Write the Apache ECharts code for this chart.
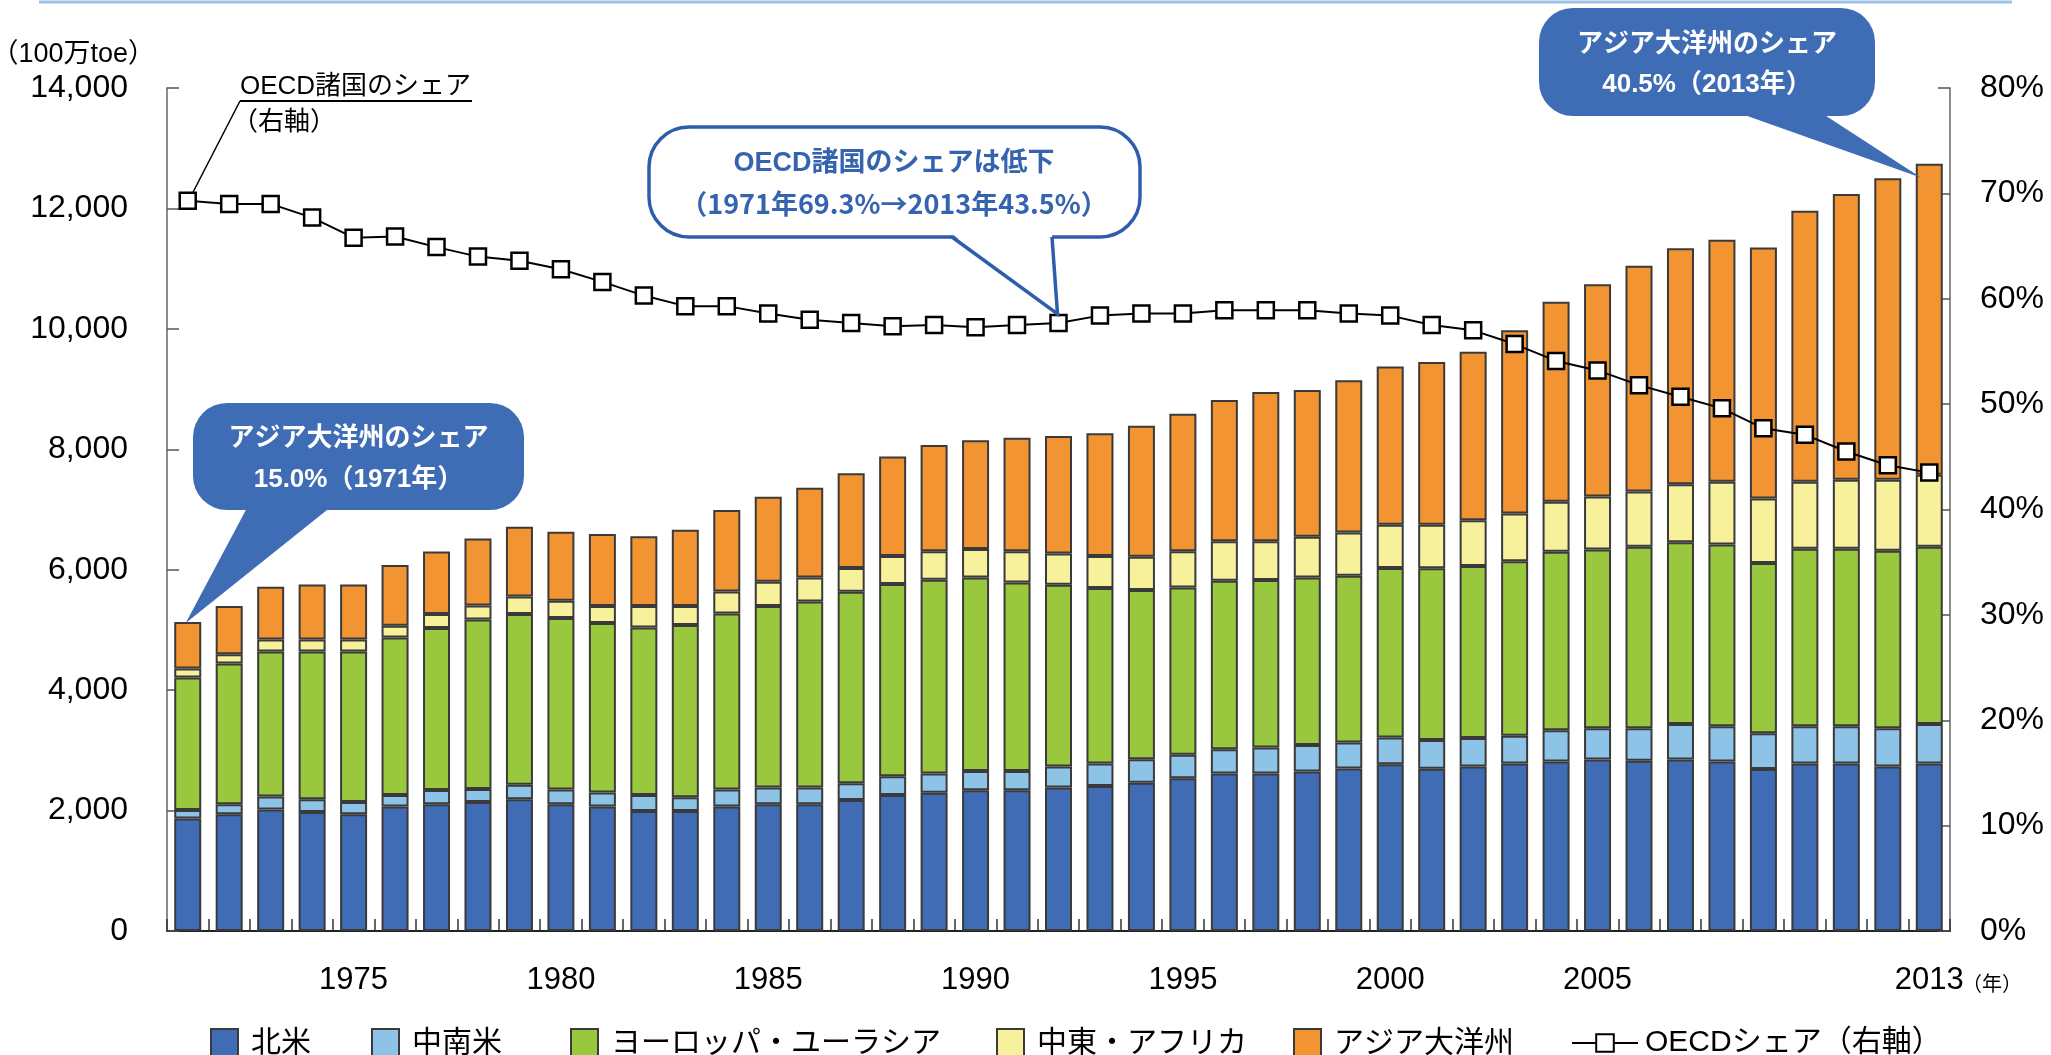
<!DOCTYPE html>
<html>
<head>
<meta charset="utf-8">
<title>世界のエネルギー消費量の推移（地域別）</title>
<script src="https://cdn.jsdelivr.net/npm/echarts@6/dist/echarts.min.js"></script>
<style>
html, body { margin: 0; padding: 0; background: #fff; }
#main { width: 2051px; height: 1055px; }
</style>
</head>
<body>
<div id="main"></div>
<script>
// 年
var years = ['1971','1972','1973','1974','1975','1976','1977','1978','1979','1980',
             '1981','1982','1983','1984','1985','1986','1987','1988','1989','1990',
             '1991','1992','1993','1994','1995','1996','1997','1998','1999','2000',
             '2001','2002','2003','2004','2005','2006','2007','2008','2009','2010',
             '2011','2012','2013'];
var labelYears = ['1975','1980','1985','1990','1995','2000','2005','2013'];

// 100万toe
var northAmerica = [1867,1939,2017,1978,1939,2066,2105,2144,2188,2105,
                    2066,1994,1994,2066,2105,2105,2177,2260,2294,2338,
                    2338,2382,2410,2460,2537,2615,2615,2648,2698,2770,
                    2695,2732,2781,2815,2850,2829,2850,2815,2691,2781,
                    2781,2732,2781];
var latinAmerica = [144,166,216,210,205,194,235,215,239,244,
                    233,266,228,283,277,277,277,311,321,321,
                    321,349,371,393,388,404,432,443,432,443,
                    479,473,462,518,517,538,586,587,593,621,
                    621,635,655];
var europeEurasia = [2199,2338,2410,2455,2499,2615,2692,2814,2836,2848,
                     2814,2781,2858,2925,3014,3092,3180,3191,3219,3213,
                     3130,3019,2914,2809,2781,2798,2781,2781,2770,2815,
                     2852,2857,2898,2967,2967,3016,3022,3015,2829,2946,
                     2946,2947,2947];
var middleEastAfrica = [150,155,199,199,199,194,233,233,294,288,
                        283,355,316,366,405,398,394,465,471,471,
                        516,521,532,554,599,654,643,676,720,720,
                        722,758,794,828,883,917,960,1042,1070,1111,
                        1145,1179,1193];
var asiaOceania = [770,798,875,914,914,1008,1036,1114,1157,1146,
                   1197,1158,1269,1351,1409,1488,1572,1653,1765,1807,
                   1885,1949,2038,2174,2285,2349,2479,2437,2525,2627,
                   2702,2800,3040,3322,3523,3750,3922,4021,4167,4501,
                   4747,5007,5164];
// OECD諸国のシェア（%）
var oecdShare = [69.3,69.0,69.0,67.7,65.8,65.9,64.9,64.0,63.6,62.8,
                 61.6,60.3,59.3,59.3,58.6,58.0,57.7,57.4,57.5,57.3,
                 57.5,57.7,58.4,58.6,58.6,58.9,58.9,58.9,58.6,58.4,
                 57.5,57.0,55.7,54.1,53.2,51.8,50.7,49.6,47.7,47.1,
                 45.5,44.2,43.5];

var seriesNames = ['北米','中南米','ヨーロッパ・ユーラシア','中東・アフリカ','アジア大洋州'];
var seriesColors = ['#3f6cb4','#8ec3e8','#99c73d','#f8f19b','#f39433'];
var seriesData = [northAmerica, latinAmerica, europeEurasia, middleEastAfrica, asiaOceania];
var legendLefts = [205, 366, 565, 991, 1288];

var FONT = "'Liberation Sans', 'Noto Sans CJK JP', sans-serif";
var calloutBlue = '#3f6db5';

var chart = echarts.init(document.getElementById('main'));

function fmtComma(v) {
    return String(v).replace(/\B(?=(\d{3})+(?!\d))/g, ',');
}

var series = [];
for (var i = 0; i < seriesNames.length; i++) {
    series.push({
        name: seriesNames[i],
        type: 'bar',
        stack: 'total',
        barWidth: 27,
        data: seriesData[i],
        itemStyle: { color: seriesColors[i], borderColor: '#3a3a3a', borderWidth: 2 }
    });
}
series.push({
    name: 'OECDシェア（右軸）',
    type: 'line',
    yAxisIndex: 1,
    data: oecdShare,
    symbol: 'rect',
    symbolSize: 16,
    lineStyle: { color: '#000', width: 2 },
    itemStyle: { color: '#fff', borderColor: '#000', borderWidth: 2.5 },
    z: 5
});

var legends = [];
for (var j = 0; j < seriesNames.length; j++) {
    legends.push({
        data: [{ name: seriesNames[j], icon: 'rect' }],
        left: legendLefts[j],
        top: 1023,
        itemWidth: 27,
        itemHeight: 30,
        textStyle: { fontSize: 30, color: '#000', fontFamily: FONT, padding: [0, 0, 0, 8] }
    });
}
legends.push({
    data: ['OECDシェア（右軸）'],
    left: 1566,
    top: 1023,
    itemWidth: 66,
    itemHeight: 22,
    textStyle: { fontSize: 30, color: '#000', fontFamily: FONT, padding: [0, 0, 0, 2] }
});

var option = {
    animation: false,
    backgroundColor: '#fff',
    textStyle: { fontFamily: FONT },
    grid: { left: 167, right: 101, top: 88, bottom: 124, containLabel: false, outerBoundsMode: 'none' },
    legend: legends,
    xAxis: {
        type: 'category',
        data: years,
        boundaryGap: true,
        axisLine: { lineStyle: { color: '#222', width: 2 } },
        axisTick: { show: true, inside: true, interval: 0, length: 12, lineStyle: { color: '#333', width: 1.5 } },
        axisLabel: {
            interval: 0,
            margin: 34,
            fontSize: 31,
            color: '#000',
            formatter: function (v) { return labelYears.indexOf(v) >= 0 ? v : ''; }
        },
        splitLine: { show: false }
    },
    yAxis: [{
        type: 'value',
        min: 0, max: 14000, interval: 2000,
        name: '（100万toe）',
        nameLocation: 'end',
        nameGap: 20,
        nameTextStyle: { fontSize: 27, color: '#000', align: 'right', padding: [0, 12, 0, 0] },
        axisLine: { show: true, lineStyle: { color: '#666', width: 1.5 } },
        axisTick: { show: true, inside: true, length: 12, lineStyle: { color: '#555', width: 1.5 } },
        axisLabel: { fontSize: 32, color: '#000', margin: 39, formatter: fmtComma },
        splitLine: { show: false }
    }, {
        type: 'value',
        min: 0, max: 80, interval: 10,
        position: 'right',
        axisLine: { show: true, lineStyle: { color: '#666', width: 1.5 } },
        axisTick: { show: true, inside: true, length: 12, lineStyle: { color: '#555', width: 1.5 } },
        axisLabel: { fontSize: 32, color: '#000', margin: 30, formatter: '{value}%' },
        splitLine: { show: false }
    }],
    series: series
};

chart.setOption(option);

// 吹き出しの先端位置をデータから求める
function totalAt(k) {
    var s = 0;
    for (var m = 0; m < seriesData.length; m++) s += seriesData[m][k];
    return s;
}
var last = years.length - 1;
var p71 = chart.convertToPixel({ xAxisIndex: 0, yAxisIndex: 1 }, [years[0], oecdShare[0]]);
var p92 = chart.convertToPixel({ xAxisIndex: 0, yAxisIndex: 1 }, ['1992', oecdShare[21]]);
var bar71 = chart.convertToPixel({ xAxisIndex: 0, yAxisIndex: 0 }, [years[0], totalAt(0)]);
var bar13 = chart.convertToPixel({ xAxisIndex: 0, yAxisIndex: 0 }, [years[last], totalAt(last)]);

function filledCallout(box, tailL, tailR, tip, lines, lineYs) {
    var els = [
        { type: 'rect', shape: { x: box[0], y: box[1], width: box[2] - box[0], height: box[3] - box[1], r: 34 },
          style: { fill: calloutBlue }, z: 20 },
        { type: 'polygon', shape: { points: [[tailL, box[3] - 4], [tailR, box[3] - 4], tip] },
          style: { fill: calloutBlue }, z: 20 }
    ];
    var cx = (box[0] + box[2]) / 2;
    for (var n = 0; n < lines.length; n++) {
        els.push({ type: 'text', z: 21, style: {
            text: lines[n], x: cx, y: lineYs[n], fill: '#fff',
            font: "bold 26px 'Liberation Sans', 'Noto Sans CJK JP', sans-serif",
            textAlign: 'center', textVerticalAlign: 'middle' } });
    }
    return els;
}

var graphics = [];
// 上端の水色の線
graphics.push({ type: 'line', shape: { x1: 39, y1: 2, x2: 2012, y2: 2 }, style: { stroke: '#9dc3e6', lineWidth: 3 } });

// OECD諸国のシェア（右軸）の引出し
graphics.push({ type: 'line', z: 20, shape: { x1: p71[0] + 5, y1: p71[1] - 8, x2: 240, y2: 101 }, style: { stroke: '#000', lineWidth: 1.5 } });
graphics.push({ type: 'line', z: 20, shape: { x1: 240, y1: 101, x2: 472, y2: 101 }, style: { stroke: '#000', lineWidth: 2 } });
graphics.push({ type: 'text', z: 20, style: { text: 'OECD諸国のシェア', x: 240, y: 87, fill: '#000',
    font: "26px 'Liberation Sans', 'Noto Sans CJK JP', sans-serif", textAlign: 'left', textVerticalAlign: 'middle' } });
graphics.push({ type: 'text', z: 20, style: { text: '（右軸）', x: 232, y: 123, fill: '#000',
    font: "26px 'Liberation Sans', 'Noto Sans CJK JP', sans-serif", textAlign: 'left', textVerticalAlign: 'middle' } });

// OECD諸国のシェアは低下（白抜きの吹き出し）
var bBox = [649, 127, 1140, 237];
var bTip = [p92[0] - 1, p92[1] - 9];
graphics.push({ type: 'rect', z: 20, shape: { x: bBox[0], y: bBox[1], width: bBox[2] - bBox[0], height: bBox[3] - bBox[1], r: 40 },
    style: { fill: '#fff', stroke: '#2f5dae', lineWidth: 3.5 } });
graphics.push({ type: 'polygon', z: 21, shape: { points: [[952, bBox[3] - 3], [1052, bBox[3] - 3], bTip] }, style: { fill: '#fff' } });
graphics.push({ type: 'polyline', z: 22, shape: { points: [[952, bBox[3]], bTip, [1052, bBox[3]]] },
    style: { stroke: '#2f5dae', lineWidth: 3.5, fill: null } });
graphics.push({ type: 'text', z: 22, style: { text: 'OECD諸国のシェアは低下', x: 894, y: 164, fill: '#3563b0',
    font: "bold 27px 'Liberation Sans', 'Noto Sans CJK JP', sans-serif", textAlign: 'center', textVerticalAlign: 'middle' } });
graphics.push({ type: 'text', z: 22, style: { text: '（1971年69.3%→2013年43.5%）', x: 894, y: 204, fill: '#3563b0',
    font: "bold 27px 'Noto Sans CJK JP', sans-serif", textAlign: 'center', textVerticalAlign: 'middle' } });

// アジア大洋州のシェア 1971年
graphics = graphics.concat(filledCallout([193, 403, 524, 510], 248, 332, [bar71[0] - 2, bar71[1] + 1],
    ['アジア大洋州のシェア', '15.0%（1971年）'], [439, 480]));
// アジア大洋州のシェア 2013年
graphics = graphics.concat(filledCallout([1539, 8, 1875, 116], 1736, 1820, [bar13[0] - 8, bar13[1] + 14],
    ['アジア大洋州のシェア', '40.5%（2013年）'], [45, 85]));

// 年の単位
graphics.push({ type: 'text', style: { text: '（年）', x: 1962, y: 985, fill: '#000',
    font: "20px 'Liberation Sans', 'Noto Sans CJK JP', sans-serif", textAlign: 'left', textVerticalAlign: 'middle' } });

chart.setOption({ graphic: { elements: graphics } });
</script>
</body>
</html>
